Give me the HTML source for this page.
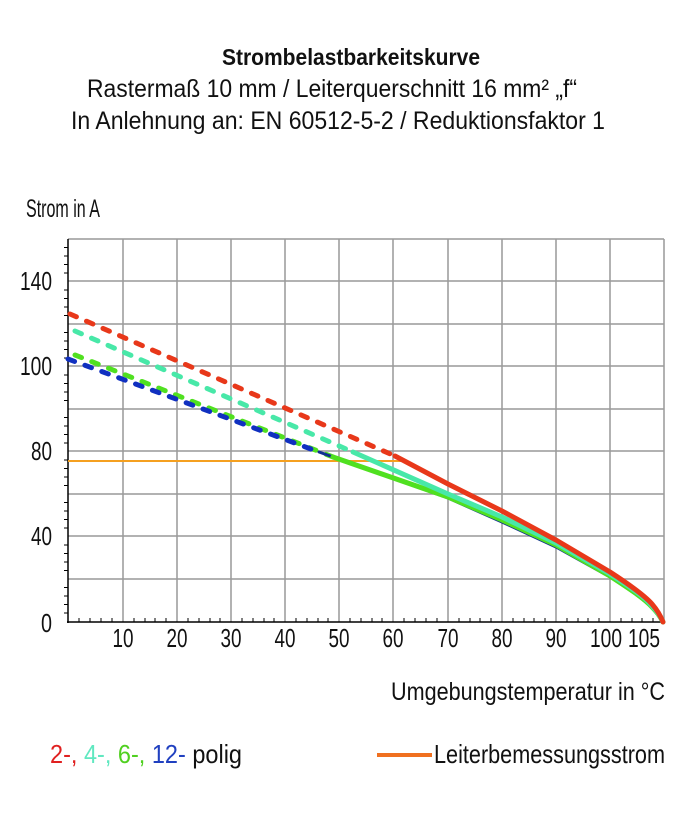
<!DOCTYPE html>
<html><head><meta charset="utf-8"><style>
html,body{margin:0;padding:0;background:#fff;}
svg{display:block;}
text{font-family:"Liberation Sans Narrow","Liberation Sans",sans-serif;fill:#111;}
</style></head><body>
<svg width="697" height="817" viewBox="0 0 697 817" xmlns="http://www.w3.org/2000/svg">
<g text-anchor="middle">
<text x="351" y="65" font-size="23" font-weight="bold" textLength="258" lengthAdjust="spacingAndGlyphs">Strombelastbarkeitskurve</text>
<text x="332" y="97" font-size="25" textLength="490" lengthAdjust="spacingAndGlyphs">Rastermaß 10 mm / Leiterquerschnitt 16 mm² „f“</text>
<text x="338" y="129" font-size="25" textLength="534" lengthAdjust="spacingAndGlyphs">In Anlehnung an: EN 60512-5-2 / Reduktionsfaktor 1</text>
</g>
<text x="26" y="217" font-size="25" textLength="74" lengthAdjust="spacingAndGlyphs">Strom in A</text>
<g stroke="#999" stroke-width="1.5">
<line x1="68" y1="239" x2="664" y2="239"/>
<line x1="68" y1="281" x2="664" y2="281"/>
<line x1="68" y1="324" x2="664" y2="324"/>
<line x1="68" y1="366" x2="664" y2="366"/>
<line x1="68" y1="409" x2="664" y2="409"/>
<line x1="68" y1="451" x2="664" y2="451"/>
<line x1="68" y1="494" x2="664" y2="494"/>
<line x1="68" y1="536" x2="664" y2="536"/>
<line x1="68" y1="579" x2="664" y2="579"/>
<line x1="123" y1="239" x2="123" y2="622"/>
<line x1="177" y1="239" x2="177" y2="622"/>
<line x1="231" y1="239" x2="231" y2="622"/>
<line x1="285" y1="239" x2="285" y2="622"/>
<line x1="339" y1="239" x2="339" y2="622"/>
<line x1="393" y1="239" x2="393" y2="622"/>
<line x1="448" y1="239" x2="448" y2="622"/>
<line x1="502" y1="239" x2="502" y2="622"/>
<line x1="556" y1="239" x2="556" y2="622"/>
<line x1="610" y1="239" x2="610" y2="622"/>
<line x1="664" y1="239" x2="664" y2="622"/>
</g>
<g stroke="#000" stroke-width="1.5">
<line x1="68" y1="239" x2="68" y2="623"/>
<line x1="67" y1="622" x2="665" y2="622"/>
</g>
<g stroke="#000" stroke-width="1">
<path d="M64 247.5h4M64 256h4M64 264.5h4M64 273h4M64 290h4M64 298.5h4M64 307h4M64 315.5h4M64 332.5h4M64 341h4M64 349.5h4M64 358h4M64 375h4M64 383.5h4M64 392h4M64 400.5h4M64 417.5h4M64 426h4M64 434.5h4M64 443h4M64 460h4M64 468.5h4M64 477h4M64 485.5h4M64 502.5h4M64 511h4M64 519.5h4M64 528h4M64 545h4M64 553.5h4M64 562h4M64 570.5h4M64 587.5h4M64 596h4M64 604.5h4M64 613h4"/>
<path d="M79 618v4M90 618v4M101 618v4M112 618v4M134 618v4M145 618v4M155 618v4M166 618v4M188 618v4M199 618v4M210 618v4M220 618v4M242 618v4M253 618v4M264 618v4M274 618v4M296 618v4M307 618v4M318 618v4M328 618v4M350 618v4M361 618v4M372 618v4M382 618v4M404 618v4M415 618v4M426 618v4M437 618v4M459 618v4M470 618v4M480 618v4M491 618v4M513 618v4M524 618v4M534 618v4M545 618v4M567 618v4M578 618v4M588 618v4M599 618v4M621 618v4M632 618v4M642 618v4M653 618v4"/>
</g>
<g font-size="26" text-anchor="end">
<text x="52" y="290" textLength="32" lengthAdjust="spacingAndGlyphs">140</text>
<text x="52" y="375" textLength="32" lengthAdjust="spacingAndGlyphs">100</text>
<text x="52" y="460" textLength="21" lengthAdjust="spacingAndGlyphs">80</text>
<text x="52" y="545" textLength="21" lengthAdjust="spacingAndGlyphs">40</text>
<text x="52" y="632" textLength="11" lengthAdjust="spacingAndGlyphs">0</text>
</g>
<g font-size="26" text-anchor="middle">
<text x="123" y="647" textLength="21" lengthAdjust="spacingAndGlyphs">10</text><text x="177" y="647" textLength="21" lengthAdjust="spacingAndGlyphs">20</text><text x="231" y="647" textLength="21" lengthAdjust="spacingAndGlyphs">30</text>
<text x="285" y="647" textLength="21" lengthAdjust="spacingAndGlyphs">40</text><text x="339" y="647" textLength="21" lengthAdjust="spacingAndGlyphs">50</text><text x="393" y="647" textLength="21" lengthAdjust="spacingAndGlyphs">60</text>
<text x="448" y="647" textLength="21" lengthAdjust="spacingAndGlyphs">70</text><text x="502" y="647" textLength="21" lengthAdjust="spacingAndGlyphs">80</text><text x="556" y="647" textLength="21" lengthAdjust="spacingAndGlyphs">90</text>
<text x="606" y="647" textLength="32" lengthAdjust="spacingAndGlyphs">100</text><text x="644" y="647" textLength="32" lengthAdjust="spacingAndGlyphs">105</text>
</g>
<line x1="68" y1="461" x2="407" y2="461" stroke="#f5a020" stroke-width="2"/>
<g fill="none" stroke-width="5" stroke-dasharray="7 11" stroke-linecap="round">
<path d="M70 314 L395 456" stroke="#e8381a"/>
<path d="M75 331 L353 452" stroke="#48e8a8"/>
<path d="M75 355 L333 457" stroke="#50e020"/>
<path d="M68 359 L319 452" stroke="#1030c0"/>
</g>
<g fill="none" stroke-linecap="round">
<path d="M319 452 L448 498 L502 522 L556 547 L610 577 C630 590 645 600 652 608 C658 614 661 618 663 622" stroke="#103090" stroke-width="3"/>
<path d="M333 457 L448 497 L502 520 L556 545 L610 576 C630 589 645 599 652 607 C658 613 661 618 663 622" stroke="#50e020" stroke-width="5"/>
<path d="M353 452 L448 494 L502 517 L556 543 L610 574 C630 587 645 597 652 606 C658 612 661 618 663 622" stroke="#48e8a8" stroke-width="5"/>
<path d="M395 456 L448 484 L502 511 L556 540 L610 572 C630 585 645 596 652 604 C658 611 661 617 663 622" stroke="#e8381a" stroke-width="5"/>
</g>
<text x="391" y="700" font-size="25" textLength="274" lengthAdjust="spacingAndGlyphs">Umgebungstemperatur in °C</text>
<text x="50" y="763" font-size="26" textLength="192" lengthAdjust="spacingAndGlyphs"><tspan style="fill:#e02020">2-, </tspan><tspan style="fill:#60e8c0">4-, </tspan><tspan style="fill:#50d020">6-, </tspan><tspan style="fill:#2040c0">12- </tspan>polig</text>
<line x1="377" y1="755" x2="432" y2="755" stroke="#f07020" stroke-width="4"/>
<text x="434" y="763" font-size="26" textLength="231" lengthAdjust="spacingAndGlyphs">Leiterbemessungsstrom</text>
</svg>
</body></html>
